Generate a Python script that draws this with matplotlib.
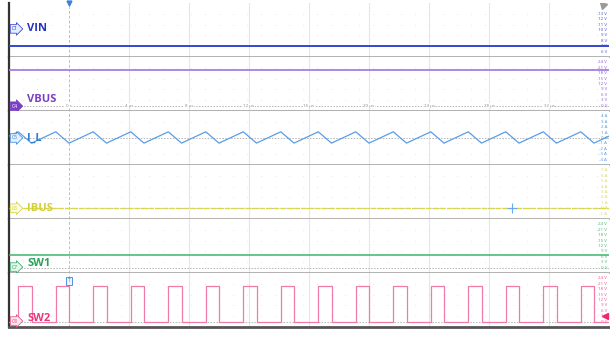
import matplotlib
matplotlib.use("Agg")
import matplotlib.pyplot as plt
import numpy as np

plt.rcParams['font.family'] = ['Open Sans', 'DejaVu Sans']

# ---------------- data ----------------
t_range = [-4.0, 36.0]                      # µs
time_ticks = [0, 4, 8, 12, 16, 20, 24, 28, 32]
time_labels = ["0 s", "4 µs", "8 µs", "12 µs", "16 µs", "20 µs", "24 µs", "28 µs", "32 µs"]

channels = ["VIN", "VBUS", "I_L", "IBUS", "SW1", "SW2"]
tags = ["C1", "C4", "C5", "C6", "C7", "C8"]
ylims = [(5, 15), (-3, 27), (-5, 5), (-2, 8), (-3, 27), (-3, 27)]
right_labels = [
    ["13 V", "12 V", "11 V", "10 V", "9 V", "8 V", "7 V", "6 V"],
    ["24 V", "21 V", "18 V", "15 V", "12 V", "9 V", "6 V", "3 V", "0 V"],
    ["4 A", "3 A", "2 A", "1 A", "0 A", "-1 A", "-2 A", "-3 A", "-4 A"],
    ["7 A", "6 A", "5 A", "4 A", "3 A", "2 A", "1 A", "0 A", "-1 A"],
    ["24 V", "21 V", "18 V", "15 V", "12 V", "9 V", "6 V", "3 V", "0 V"],
    ["24 V", "21 V", "18 V", "15 V", "12 V", "9 V", "6 V", "3 V", "0 V"],
]
right_values = [
    [13, 12, 11, 10, 9, 8, 7, 6],
    [24, 21, 18, 15, 12, 9, 6, 3, 0],
    [4, 3, 2, 1, 0, -1, -2, -3, -4],
    [7, 6, 5, 4, 3, 2, 1, 0, -1],
    [24, 21, 18, 15, 12, 9, 6, 3, 0],
    [24, 21, 18, 15, 12, 9, 6, 3, 0],
]
zero_levels = [None, 0, 0, 0, 0, 0]

vin_level = 7.05      # V
vbus_level = 19.8     # V
ibus_level = 0.0      # A
sw1_level = 7.0       # V
sw2_high = 19.9       # V
sw2_low = 0.0         # V

# SW2 edges (µs)
sw2_rise = [-3.38, -0.88, 1.62, 4.12, 6.62, 9.12, 11.62, 14.12, 16.62, 19.12,
            21.62, 24.12, 26.62, 29.12, 31.62, 34.12]
sw2_fall = [-2.5, 0.0, 2.5, 5.0, 7.5, 10.0, 12.5, 15.0, 17.5, 20.0,
            22.5, 25.0, 27.5, 30.0, 32.5, 35.0]

# inductor current vertices: peaks at SW2 rise, valleys at SW2 fall
il_start = 0.35
il_end = 0.35
il_peak = 1.15
il_valley = -0.95

colors_line = ["#3446cf", "#a57fe2", "#5b9de6", "#d9d84c", "#3db56c", "#f27aa8"]
colors_text = ["#2233c4", "#7a3fc6", "#2f7fd2", "#d2d03a", "#27a45a", "#e8387c"]
tag_fill = ["#e6ecff", "#7a3fc6", "#e3f0ff", "#fbfbe2", "#e3f6ea", "#fde6ee"]

# ---------------- figure ----------------
W, H = 610, 337
fig = plt.figure(figsize=(W / 100, H / 100), dpi=100)
fig.patch.set_facecolor("white")

left_px, right_px = 9, 609
top_px, panel_px = 3, 54
axes = []
for i in range(6):
    b = 1 - (top_px + panel_px * (i + 1)) / H
    ax = fig.add_axes([left_px / W, b, (right_px - left_px) / W, panel_px / H])
    ax.set_xlim(*t_range)
    ax.set_ylim(*ylims[i])
    ax.set_xticks([]); ax.set_yticks([])
    for s in ["top", "right"]:
        ax.spines[s].set_visible(False)
    ax.spines["left"].set_color("#333333")
    ax.spines["left"].set_linewidth(1.6)
    if i < 5:
        ax.spines["bottom"].set_color("#ababab")
        ax.spines["bottom"].set_linewidth(1.3)
    else:
        ax.spines["bottom"].set_color("#555555")
        ax.spines["bottom"].set_linewidth(2.0)
    axes.append(ax)

    y0, y1 = ylims[i]
    # major vertical grid lines
    for tv in time_ticks[1:]:
        ax.axvline(tv, color="#e6e6e6", lw=0.8, zorder=0)
    ax.axvline(0, color="#bdbdbd", lw=0.7, ls=(0, (3, 2)), zorder=0.5)
    # dotted minor grid rows
    for f in [0.2, 0.4, 0.6, 0.8]:
        ax.axhline(y0 + f * (y1 - y0), color="#d0d0d0", lw=0.6,
                   ls=(0, (0.8, 16)), zorder=0)
    # zero / offset line
    if zero_levels[i] is not None:
        ax.axhline(zero_levels[i], color="#b5b5b5", lw=0.7,
                   ls=(0, (1.5, 1.5)), zorder=0.5)
    # right-side scale labels
    for lab, v in zip(right_labels[i], right_values[i]):
        ax.text(0.997, v, lab, transform=ax.get_yaxis_transform(),
                ha="right", va="center", fontsize=3.2, color=colors_text[i],
                alpha=0.85)

# traces
axes[0].plot(t_range, [vin_level, vin_level], color=colors_line[0], lw=1.4, zorder=3)
axes[1].plot(t_range, [vbus_level, vbus_level], color=colors_line[1], lw=1.3, zorder=3)

il_t = [t_range[0]]
il_v = [il_start]
for r, f in zip(sw2_rise, sw2_fall):
    il_t += [r, f]
    il_v += [il_peak, il_valley]
il_t.append(t_range[1]); il_v.append(il_end)
axes[2].plot(il_t, il_v, color=colors_line[2], lw=0.9, zorder=3)

axes[3].plot(t_range, [ibus_level, ibus_level], color=colors_line[3], lw=1.0,
             ls=(0, (4, 1)), zorder=3)
axes[4].plot(t_range, [sw1_level, sw1_level], color=colors_line[4], lw=1.1, zorder=3)

sw_t = [t_range[0]]
sw_v = [sw2_low]
for r, f in zip(sw2_rise, sw2_fall):
    sw_t += [r, r, f, f]
    sw_v += [sw2_low, sw2_high, sw2_high, sw2_low]
sw_t.append(t_range[1]); sw_v.append(sw2_low)
axes[5].plot(sw_t, sw_v, color=colors_line[5], lw=0.9, zorder=3)

# time labels on VBUS zero line
for tv, lab in zip(time_ticks, time_labels):
    axes[1].text(tv, 0, lab, ha="center", va="center", fontsize=3.2,
                 color="#8a8a8a", zorder=4,
                 bbox=dict(boxstyle="square,pad=0.15", fc="white", ec="none"))

# channel tags and names
tag_pos = [0.52, 0.09, 0.5, 0.2, 0.11, 0.11]
name_pos = [0.52, 0.22, 0.5, 0.2, 0.17, 0.15]
for i, ax in enumerate(axes):
    tc = "white" if i == 1 else colors_text[i]
    ax.text(0.005, tag_pos[i], tags[i], transform=ax.transAxes, ha="left",
            va="center", fontsize=3.6, color=tc, zorder=6,
            bbox=dict(boxstyle="rarrow,pad=0.35", fc=tag_fill[i],
                      ec=colors_text[i], lw=0.5))
    ax.text(0.03, name_pos[i], channels[i], transform=ax.transAxes, ha="left",
            va="center", fontsize=8, fontweight="bold", color=colors_text[i],
            zorder=6)

# trigger markers
axes[0].plot([0], [1.0], transform=axes[0].get_xaxis_transform(), marker="v",
             ms=3.5, color="#3b82d6", clip_on=False, zorder=7)
axes[5].text(0, 0.86, "T", transform=axes[5].get_xaxis_transform(), ha="center",
             va="center", fontsize=3.6, color="#3b82d6", zorder=7,
             bbox=dict(boxstyle="square,pad=0.3", fc="#eaf3ff", ec="#3b82d6", lw=0.6))
axes[3].plot([29.5], [0], marker="+", ms=7, mew=0.8, color="#6aa8e8", zorder=7)
axes[5].plot([35.7], [3], marker="<", ms=4.5, color="#ee2a6a", zorder=7, clip_on=False)
axes[0].plot([35.6], [14.6], marker=(3, 0, 45), ms=6, color="#9a9a9a", zorder=7)

fig.savefig("out.png", dpi=100)
